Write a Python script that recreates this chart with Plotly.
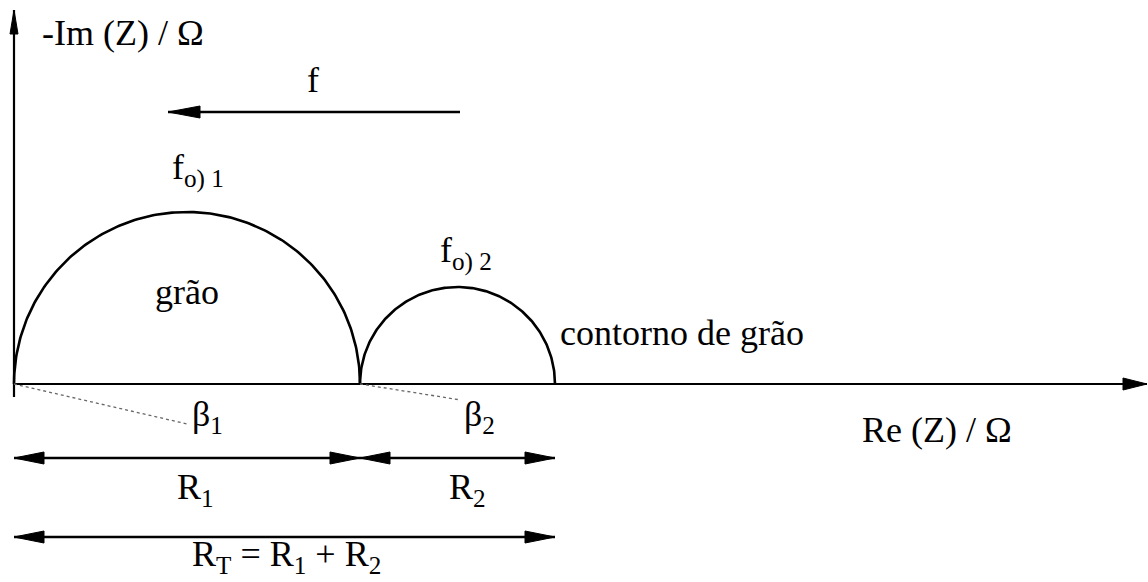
import numpy as np
import plotly.graph_objects as go

# Arc resistances (Ω, drawing units) and their peak heights
R1 = 346
R2 = 195
RT = R1 + R2
arc_heights = [172, 97]
# depression angles of the two arcs (degrees) and guide-line lengths
beta_deg = [13, 9]
beta_len = [178, 99]

FONT = "Liberation Serif"
INK = "black"

fig = go.Figure()


def add_line(x0, y0, x1, y1, width=2.4, color=INK, dash="solid"):
    fig.add_trace(go.Scatter(x=[x0, x1], y=[y0, y1], mode="lines",
                             line=dict(color=color, width=width, dash=dash),
                             hoverinfo="skip", showlegend=False))


def add_head(tx, ty, dx, dy, length=30, half=6):
    """Filled triangular arrow head with tip at (tx, ty) pointing along (dx, dy)."""
    n = np.hypot(dx, dy)
    ux, uy = dx / n, dy / n
    bx, by = tx - ux * length, ty - uy * length
    px, py = -uy * half, ux * half
    fig.add_trace(go.Scatter(x=[tx, bx + px, bx - px, tx], y=[ty, by + py, by - py, ty],
                             mode="lines", fill="toself", fillcolor=INK,
                             line=dict(color=INK, width=1),
                             hoverinfo="skip", showlegend=False))


def arrow(x0, y0, x1, y1, both=False, width=2.4, length=30, half=6):
    add_line(x0, y0, x1, y1, width=width)
    add_head(x1, y1, x1 - x0, y1 - y0, length, half)
    if both:
        add_head(x0, y0, x0 - x1, y0 - y1, length, half)


# axes
X_END, Y_TOP = 1133, 374
arrow(0, 0, X_END, 0, width=2.2, length=24, half=6)
arrow(0, -13, 0, Y_TOP, width=2.2, length=24, half=4)

# the two semicircular arcs
starts = [0, R1]
for x0, R, h in zip(starts, [R1, R2], arc_heights):
    th = np.linspace(0, np.pi, 200)
    fig.add_trace(go.Scatter(x=x0 + R / 2 + R / 2 * np.cos(th), y=h * np.sin(th),
                             mode="lines", line=dict(color=INK, width=2.6),
                             hoverinfo="skip", showlegend=False))

# depression-angle guide lines
for x0, b, L in zip(starts, beta_deg, beta_len):
    r = np.radians(b)
    add_line(x0, 0, x0 + L * np.cos(r), -L * np.sin(r), width=1.3, color="#666", dash="dot")

# frequency direction arrow
arrow(446, 272, 154, 272, width=2.6, length=32, half=6)

# resistance spans
arrow(0, -74, R1, -74, both=True, width=2.4, length=30, half=6)
arrow(R1, -74, RT, -74, both=True, width=2.4, length=30, half=6)
arrow(0, -153, RT, -153, both=True, width=2.4, length=30, half=6)


def label(x, y, text, xanchor="center", yanchor="middle", size=36):
    fig.add_annotation(x=x, y=y, text=text, showarrow=False, xanchor=xanchor,
                       yanchor=yanchor, font=dict(family=FONT, size=size, color=INK))


label(26, 351, "-Im (Z) / Ω", xanchor="left")
label(299, 304, "f")
label(156, 214, "f<sub>o) 1</sub>", xanchor="left")
label(R1 / 2, 92, "grão")
label(424, 131, "f<sub>o) 2</sub>", xanchor="left")
label(544, 51, "contorno de grão", xanchor="left")
label(176, -32, "β<sub>1</sub>", xanchor="left")
label(448, -32, "β<sub>2</sub>", xanchor="left")
label(846, -46, "Re (Z) / Ω", xanchor="left")
label(R1 / 2 + 8, -105, "R<sub>1</sub>")
label(R1 + R2 / 2 + 10, -105, "R<sub>2</sub>")
label(RT / 2 + 2, -172, "R<sub>T</sub> = R<sub>1</sub> + R<sub>2</sub>")

fig.update_layout(
    width=1148, height=582,
    margin=dict(l=0, r=0, t=0, b=0),
    paper_bgcolor="white", plot_bgcolor="white",
    font=dict(family=FONT),
    xaxis=dict(range=[-14, 1134], visible=False, fixedrange=True),
    yaxis=dict(range=[-198, 384], visible=False, fixedrange=True),
    showlegend=False,
)

fig.write_html("out.html")
